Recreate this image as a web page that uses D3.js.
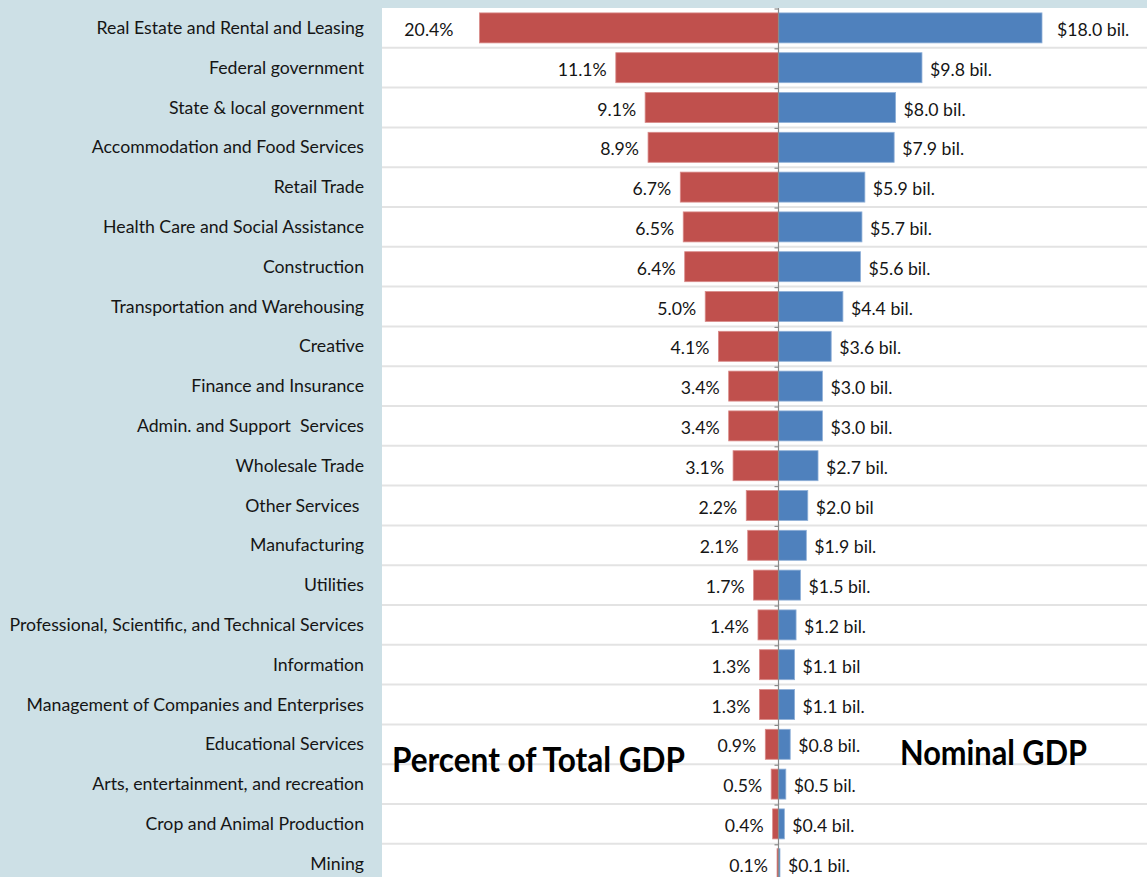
<!DOCTYPE html>
<html>
<head>
<script src="https://d3js.org/d3.v7.min.js"></script>
<style>
  body {margin: 0; background: #cde0e6; font-family: Lato, sans-serif;}
  .cat {font-size: 17.7px; fill: #151515; white-space: pre;}
  .val {font-size: 17.7px; fill: #151515;}
  .title {font-size: 35px; font-weight: bold; fill: #000;}
</style>
</head>
<body>
<svg id="chart" width="1147" height="877"></svg>
<script>
// categories, top to bottom
var categories = ["Real Estate and Rental and Leasing", "Federal government", "State & local government",
  "Accommodation and Food Services", "Retail Trade", "Health Care and Social Assistance", "Construction",
  "Transportation and Warehousing", "Creative", "Finance and Insurance", "Admin. and Support  Services",
  "Wholesale Trade", "Other Services ", "Manufacturing", "Utilities",
  "Professional, Scientific, and Technical Services", "Information", "Management of Companies and Enterprises",
  "Educational Services", "Arts, entertainment, and recreation", "Crop and Animal Production", "Mining"];

// percent of total GDP
var percentValues = [20.4, 11.1, 9.1, 8.9, 6.7, 6.5, 6.4, 5.0, 4.1, 3.4, 3.4, 3.1, 2.2, 2.1, 1.7, 1.4, 1.3, 1.3, 0.9, 0.5, 0.4, 0.1];

// nominal GDP, billions
var gdpValues = [18.0, 9.8, 8.0, 7.9, 5.9, 5.7, 5.6, 4.4, 3.6, 3.0, 3.0, 2.7, 2.0, 1.9, 1.5, 1.2, 1.1, 1.1, 0.8, 0.5, 0.4, 0.1];
var gdpLabels = ["$18.0 bil.", "$9.8 bil.", "$8.0 bil.", "$7.9 bil.", "$5.9 bil.", "$5.7 bil.", "$5.6 bil.",
  "$4.4 bil.", "$3.6 bil.", "$3.0 bil.", "$3.0 bil.", "$2.7 bil.", "$2.0 bil", "$1.9 bil.", "$1.5 bil.",
  "$1.2 bil.", "$1.1 bil", "$1.1 bil.", "$0.8 bil.", "$0.5 bil.", "$0.4 bil.", "$0.1 bil."];

var svg = d3.select("#chart"),
    plotLeft = 382, plotTop = 8, rowH = 39.8,
    mid = 778.5;

var data = categories.map(function(c, i) {
  return {cat: c, pct: percentValues[i], gdp: gdpValues[i], label: gdpLabels[i], i: i};
});

var y = d3.scaleBand()
    .domain(categories)
    .range([plotTop, plotTop + rowH * categories.length])
    .paddingInner(0);

// both sides share about the same pixels per unit
var xL = d3.scaleLinear().domain([0, 20.4]).range([mid, 479.5]);
var xR = d3.scaleLinear().domain([0, 18]).range([mid, 1042]);

var barH = 30;

// white plot panel
svg.append("rect")
    .attr("x", plotLeft).attr("y", plotTop)
    .attr("width", 1147 - plotLeft).attr("height", 877 - plotTop)
    .attr("fill", "#fff");

// gridlines at row boundaries
var bounds = categories.map(function(c) { return y(c); }).concat([y.range()[1]]);
svg.append("g").selectAll("line")
    .data(bounds.slice(1))
    .enter().append("line")
    .attr("x1", plotLeft).attr("x2", 1147)
    .attr("y1", function(d) { return d; }).attr("y2", function(d) { return d; })
    .attr("stroke", "#e3e3e3")
    .attr("stroke-width", 2);

// category labels
svg.append("g").selectAll("text")
    .data(data)
    .enter().append("text")
    .attr("class", "cat")
    .attr("x", 364)
    .attr("y", function(d) { return y(d.cat) + y.bandwidth() / 2; })
    .attr("dy", "0.35em")
    .attr("text-anchor", "end")
    .text(function(d) { return d.cat; });

// red bars (percent)
svg.append("g").selectAll("rect")
    .data(data)
    .enter().append("rect")
    .attr("x", function(d) { return xL(d.pct); })
    .attr("y", function(d) { return y(d.cat) + (y.bandwidth() - barH) / 2; })
    .attr("width", function(d) { return xL(0) - xL(d.pct); })
    .attr("height", barH)
    .attr("fill", "#c0504d")
    .attr("stroke", "#d98c8a")
    .attr("stroke-width", 0.8);

// blue bars (nominal)
svg.append("g").selectAll("rect")
    .data(data)
    .enter().append("rect")
    .attr("x", xR(0))
    .attr("y", function(d) { return y(d.cat) + (y.bandwidth() - barH) / 2; })
    .attr("width", function(d) { return xR(d.gdp) - xR(0); })
    .attr("height", barH)
    .attr("fill", "#4f81bd")
    .attr("stroke", "#8fb0d8")
    .attr("stroke-width", 0.8);

// center axis with ticks
var axis = svg.append("g");
axis.append("line")
    .attr("x1", mid).attr("x2", mid)
    .attr("y1", plotTop).attr("y2", 877)
    .attr("stroke", "#8a8a8a").attr("stroke-width", 1.2);
axis.selectAll(".tick")
    .data(bounds)
    .enter().append("line")
    .attr("x1", mid - 4).attr("x2", mid)
    .attr("y1", function(d) { return d + 1; }).attr("y2", function(d) { return d + 1; })
    .attr("stroke", "#8a8a8a").attr("stroke-width", 1.2);

// percent labels
svg.append("g").selectAll("text")
    .data(data)
    .enter().append("text")
    .attr("class", "val")
    .attr("x", function(d) { return xL(d.pct) - (d.i === 0 ? 26 : 9); })
    .attr("y", function(d) { return y(d.cat) + y.bandwidth() / 2 + 2; })
    .attr("dy", "0.35em")
    .attr("text-anchor", "end")
    .text(function(d) { return d.pct.toFixed(1) + "%"; });

// nominal labels
svg.append("g").selectAll("text")
    .data(data)
    .enter().append("text")
    .attr("class", "val")
    .attr("x", function(d) { return xR(d.gdp) + (d.i === 0 ? 15 : 8); })
    .attr("y", function(d) { return y(d.cat) + y.bandwidth() / 2 + 2; })
    .attr("dy", "0.35em")
    .attr("text-anchor", "start")
    .text(function(d) { return d.label; });

// side titles
svg.append("text")
    .attr("class", "title")
    .attr("x", 392).attr("y", 772)
    .attr("textLength", 293).attr("lengthAdjust", "spacingAndGlyphs")
    .text("Percent of Total GDP");

svg.append("text")
    .attr("class", "title")
    .attr("x", 900).attr("y", 765)
    .attr("textLength", 187).attr("lengthAdjust", "spacingAndGlyphs")
    .text("Nominal GDP");
</script>
</body>
</html>
